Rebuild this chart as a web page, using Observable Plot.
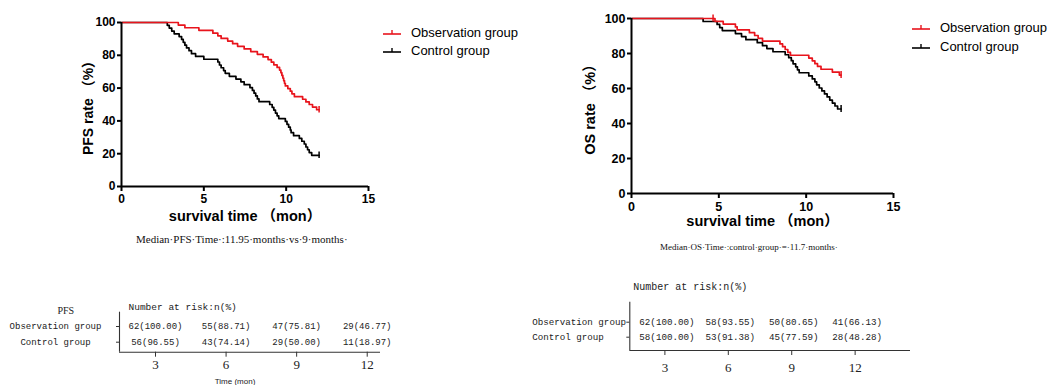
<!DOCTYPE html>
<html><head><meta charset="utf-8">
<script src="https://cdn.jsdelivr.net/npm/d3@7"></script>
<script src="https://cdn.jsdelivr.net/npm/@observablehq/plot@0.6"></script>
<style>
html,body{margin:0;padding:0;background:#fff}
body{width:1059px;height:385px;position:relative;overflow:hidden;font-family:"Liberation Sans",Arial,"Noto Sans CJK SC",sans-serif}
.abs{position:absolute}
.leg{font-size:13px;color:#000;line-height:18px}
.leg div{display:flex;align-items:center;height:18px}
.leg svg{margin-right:10px}
.cap{font-family:"Liberation Serif","Times New Roman",serif;color:#111;white-space:nowrap}
</style></head>
<body>
<script>
// ---------- DATA ----------
const RED = "#e8141c";
const groupNames = ["Observation group", "Control group"];

// PFS – Observation group (time, survival %)
const pfsObsT = [0, 3.45, 3.85, 4.7, 5.55, 5.85, 6.05, 6.45, 6.75, 7.05, 7.45, 7.85, 8.25, 8.6, 8.9, 9.1, 9.25, 9.45, 9.6, 9.68, 9.74, 9.8, 9.85, 9.9, 9.95, 10.1, 10.25, 10.35, 10.5, 11.0, 11.2, 11.4, 11.6, 11.85, 12.0];
const pfsObsS = [100, 98.4, 96.8, 95.2, 93.5, 91.9, 90.3, 88.7, 87.1, 85.5, 83.9, 82.3, 80.6, 79.0, 77.4, 75.8, 74.2, 72.6, 71.0, 69.4, 67.7, 66.1, 64.5, 62.9, 61.3, 59.7, 58.1, 56.5, 54.8, 53.2, 51.6, 50.0, 48.4, 46.8, 46.8];
// PFS – Control group
const pfsCtlT = [0, 2.78, 2.9, 3.05, 3.2, 3.5, 3.65, 3.75, 3.85, 3.95, 4.1, 4.25, 4.5, 5.0, 5.85, 5.95, 6.05, 6.2, 6.3, 6.55, 6.95, 7.25, 7.45, 7.8, 7.95, 8.05, 8.15, 8.25, 8.35, 9.0, 9.15, 9.25, 9.35, 9.45, 9.55, 9.95, 10.05, 10.15, 10.25, 10.3, 10.45, 10.8, 10.95, 11.1, 11.2, 11.3, 11.4, 11.55, 12.0];
const pfsCtlS = [100, 98.3, 96.6, 94.8, 93.1, 91.4, 89.7, 87.9, 86.2, 84.5, 82.8, 81.0, 79.3, 77.6, 75.9, 74.1, 72.4, 70.7, 69.0, 67.2, 65.5, 63.8, 62.1, 60.3, 58.6, 56.9, 55.2, 53.4, 51.7, 50.0, 48.3, 46.6, 44.8, 43.1, 41.4, 39.7, 37.9, 36.2, 34.5, 32.8, 31.0, 29.3, 27.6, 25.9, 24.1, 22.4, 20.7, 19.0, 19.0];
const pfsObsCens = [12.0];
const pfsCtlCens = [12.0];

// OS – Observation group
const osObsT = [0, 4.78, 5.25, 5.95, 6.05, 6.75, 7.05, 7.25, 7.5, 8.5, 8.65, 8.8, 8.95, 9.1, 10.15, 10.35, 10.5, 10.65, 10.85, 11.5, 11.9, 12.0];
const osObsS = [100, 98.4, 96.8, 95.2, 93.5, 91.9, 90.3, 88.7, 87.1, 85.5, 83.9, 82.3, 80.6, 79.0, 77.4, 75.8, 74.2, 72.6, 71.0, 69.4, 67.7, 67.7];
// OS – Control group
const osCtlT = [0, 4.1, 4.9, 5.05, 5.2, 5.95, 6.3, 6.55, 7.2, 7.5, 7.75, 8.1, 8.8, 9.0, 9.15, 9.25, 9.4, 9.5, 9.6, 10.15, 10.35, 10.5, 10.6, 10.75, 10.9, 11.05, 11.2, 11.35, 11.5, 11.65, 11.8, 12.0];
const osCtlS = [100, 98.3, 96.6, 94.8, 93.1, 91.4, 89.7, 87.9, 86.2, 84.5, 82.8, 81.0, 79.3, 77.6, 75.9, 74.1, 72.4, 70.7, 69.0, 67.2, 65.5, 63.8, 62.1, 60.3, 58.6, 56.9, 55.2, 53.4, 51.7, 50.0, 48.3, 48.3];
const osObsCens = [4.67, 12.0];
const osCtlCens = [12.0];

const xTicks = [0, 5, 10, 15];
const yTicks = [0, 20, 40, 60, 80, 100];

// Number at risk
const riskTimes = [3, 6, 9, 12];
const pfsObsRisk = ["62(100.00)", "55(88.71)", "47(75.81)", "29(46.77)"];
const pfsCtlRisk = ["56(96.55)", "43(74.14)", "29(50.00)", "11(18.97)"];
const osObsRisk = ["62(100.00)", "58(93.55)", "50(80.65)", "41(66.13)"];
const osCtlRisk = ["58(100.00)", "53(91.38)", "45(77.59)", "28(48.28)"];

// ---------- HELPERS ----------
const SANS = '"Liberation Sans", Arial, "Noto Sans CJK SC", sans-serif';
const MONO = '"Liberation Mono", "Courier New", monospace';
const SERIF = '"Liberation Serif", "Times New Roman", serif';

function place(node, left, top) {
  const d = document.createElement("div");
  d.className = "abs";
  d.style.left = left + "px";
  d.style.top = top + "px";
  d.appendChild(node);
  document.body.appendChild(d);
  return d;
}
function stepAt(T, S, t) {
  let v = S[0];
  for (let i = 0; i < T.length; i++) if (T[i] <= t) v = S[i];
  return v;
}
function kmChart(c) {
  const obs = c.obsT.map((t, i) => ({t, s: c.obsS[i]}));
  const ctl = c.ctlT.map((t, i) => ({t, s: c.ctlS[i]}));
  const oc = c.obsCens.map(t => ({t, s: stepAt(c.obsT, c.obsS, t)}));
  const cc = c.ctlCens.map(t => ({t, s: stepAt(c.ctlT, c.ctlS, t)}));
  return Plot.plot({
    width: c.w, height: c.h,
    marginLeft: c.ml, marginRight: c.mr, marginTop: c.mt, marginBottom: c.mb,
    x: {domain: [0, 15]}, y: {domain: [0, 100]},
    style: {fontFamily: SANS, color: "#000", background: "transparent", overflow: "visible"},
    marks: [
      Plot.line(ctl, {x: "t", y: "s", curve: "step-after", stroke: "#000", strokeWidth: 1.7}),
      Plot.line(obs, {x: "t", y: "s", curve: "step-after", stroke: RED, strokeWidth: 1.7}),
      Plot.ruleX(cc, {x: "t", y1: d => d.s - 2, y2: d => d.s + 2, stroke: "#000", strokeWidth: 1.5}),
      Plot.ruleX(oc, {x: "t", y1: d => d.s - 2, y2: d => d.s + 2, stroke: RED, strokeWidth: 1.5}),
      Plot.ruleX([0], {stroke: "#000", strokeWidth: 2}),
      Plot.ruleY([0], {stroke: "#000", strokeWidth: 2}),
      Plot.axisX({ticks: xTicks, tickSize: 5, tickPadding: c.xPad, fontSize: c.fs, fontWeight: "bold", strokeWidth: 2, label: null}),
      Plot.axisY({ticks: yTicks, tickSize: 4, tickPadding: 2, fontSize: c.fs, fontWeight: "bold", strokeWidth: 2, label: null}),
      Plot.text([c.ylabel], {frameAnchor: "left", dx: c.ylDx, rotate: -90, textAnchor: "middle", lineAnchor: "middle", fontSize: c.lfs, fontWeight: "bold"}),
      Plot.text([c.xlabel], {frameAnchor: "bottom", dy: c.xlDy, textAnchor: "middle", lineAnchor: "middle", fontSize: c.xlfs, fontWeight: "bold"})
    ]
  });
}
function riskTable(c) {
  const rows = [];
  c.groups.forEach((g, gi) => g.forEach((v, i) => rows.push({t: riskTimes[i], row: gi, label: v})));
  return Plot.plot({
    width: c.w, height: c.h,
    marginLeft: c.ml, marginRight: c.mr, marginTop: c.mt, marginBottom: c.mb,
    x: {domain: c.xd}, y: {domain: c.yd, reverse: true},
    style: {fontFamily: MONO, color: "#222", background: "transparent", overflow: "visible"},
    marks: [
      Plot.ruleX([c.xd[0]], {stroke: "#333", strokeWidth: 1.1}),
      Plot.ruleY([c.yd[1]], {stroke: "#333", strokeWidth: 1.1}),
      Plot.axisX({ticks: riskTimes, tickSize: 5, tickPadding: c.xPad, fontFamily: SERIF, fontSize: 13, stroke: "#333", label: null}),
      Plot.axisY({ticks: [0, 1], tickFormat: i => groupNames[i], tickSize: 3, tickPadding: c.rowPad, textAnchor: c.rowAnchor, fontFamily: MONO, fontSize: c.rowFs, stroke: "#333", label: null}),
      Plot.text(rows, {x: "t", y: "row", text: "label", fontFamily: MONO, fontSize: c.valFs, dx: c.valDx}),
      Plot.text([c.header], {frameAnchor: "top-left", textAnchor: "start", lineAnchor: "middle", dx: c.hdx, dy: c.hdy, fontFamily: MONO, fontSize: c.hfs}),
      ...(c.extra || [])
    ]
  });
}

// ---------- KM CHARTS ----------
place(kmChart({
  obsT: pfsObsT, obsS: pfsObsS, ctlT: pfsCtlT, ctlS: pfsCtlS, obsCens: pfsObsCens, ctlCens: pfsCtlCens,
  w: 380, h: 230, ml: 121, mr: 12, mt: 22, mb: 44, fs: 12, lfs: 14, xlfs: 14.5, xPad: 3,
  ylabel: "PFS rate （%）", ylDx: -33, xlabel: "survival time （mon）", xlDy: 30
}), 0, 0);

place(kmChart({
  obsT: osObsT, obsS: osObsS, ctlT: osCtlT, ctlS: osCtlS, obsCens: osObsCens, ctlCens: osCtlCens,
  w: 390, h: 230, ml: 111, mr: 17, mt: 18, mb: 37, fs: 12.5, lfs: 14.5, xlfs: 14.5, xPad: 4,
  ylabel: "OS rate （%）", ylDx: -41, xlabel: "survival time （mon）", xlDy: 28
}), 520, 0);

// ---------- LEGENDS ----------
function legend(left, top, gap) {
  const d = document.createElement("div");
  d.className = "abs leg";
  d.style.left = left + "px"; d.style.top = top + "px";
  [["Observation group", RED], ["Control group", "#000"]].forEach(([name, col], i) => {
    const r = document.createElement("div");
    if (i) r.style.marginTop = gap + "px";
    r.innerHTML = `<svg width="18" height="10"><line x1="0" y1="6" x2="18" y2="6" stroke="${col}" stroke-width="1.6"/><line x1="9" y1="2" x2="9" y2="6" stroke="${col}" stroke-width="1.4"/></svg><span>${name}</span>`;
    d.appendChild(r);
  });
  document.body.appendChild(d);
}
legend(383, 24, 0);
legend(912, 19, 1);

// ---------- CAPTIONS ----------
function caption(text, left, top, fs) {
  const d = document.createElement("div");
  d.className = "abs cap";
  d.style.left = left + "px"; d.style.top = top + "px"; d.style.fontSize = fs + "px";
  d.textContent = text;
  document.body.appendChild(d);
}
caption("Median·PFS·Time·:11.95·months·vs·9·months·", 136, 233, 11);
caption("Median·OS·Time·:control·group·=·11.7·months·", 660, 242, 9);

// ---------- RISK TABLES ----------
place(riskTable({
  groups: [pfsObsRisk, pfsCtlRisk],
  w: 385, h: 95, ml: 119, mr: 5, mt: 21.7, mb: 33.3,
  xd: [1.469, 12.565], yd: [-0.911, 1.637],
  xPad: 3, rowPad: 61, rowAnchor: "middle", rowFs: 9, valFs: 9, valDx: 0,
  header: "Number at risk:n(%)", hdx: 9, hdy: -5, hfs: 9.5,
  extra: [
    Plot.text(["PFS"], {frameAnchor: "top-left", lineAnchor: "middle", dx: -62, dy: -1, fontFamily: SERIF, fontSize: 10}),
    Plot.text(["Time (mon)"], {frameAnchor: "bottom", lineAnchor: "middle", dx: -15, dy: 29, fontFamily: SANS, fontSize: 8})
  ]
}), 0, 290);

place(riskTable({
  groups: [osObsRisk, osCtlRisk],
  w: 400, h: 115, ml: 109.3, mr: 10, mt: 31.7, mb: 35,
  xd: [1.339, 14.62], yd: [-1.333, 1.887],
  xPad: 7, rowPad: 94.6, rowAnchor: "start", rowFs: 9.2, valFs: 9.2, valDx: 2,
  header: "Number at risk:n(%)", hdx: 3.4, hdy: -15, hfs: 10
}), 520, 270);
</script>
</body></html>
